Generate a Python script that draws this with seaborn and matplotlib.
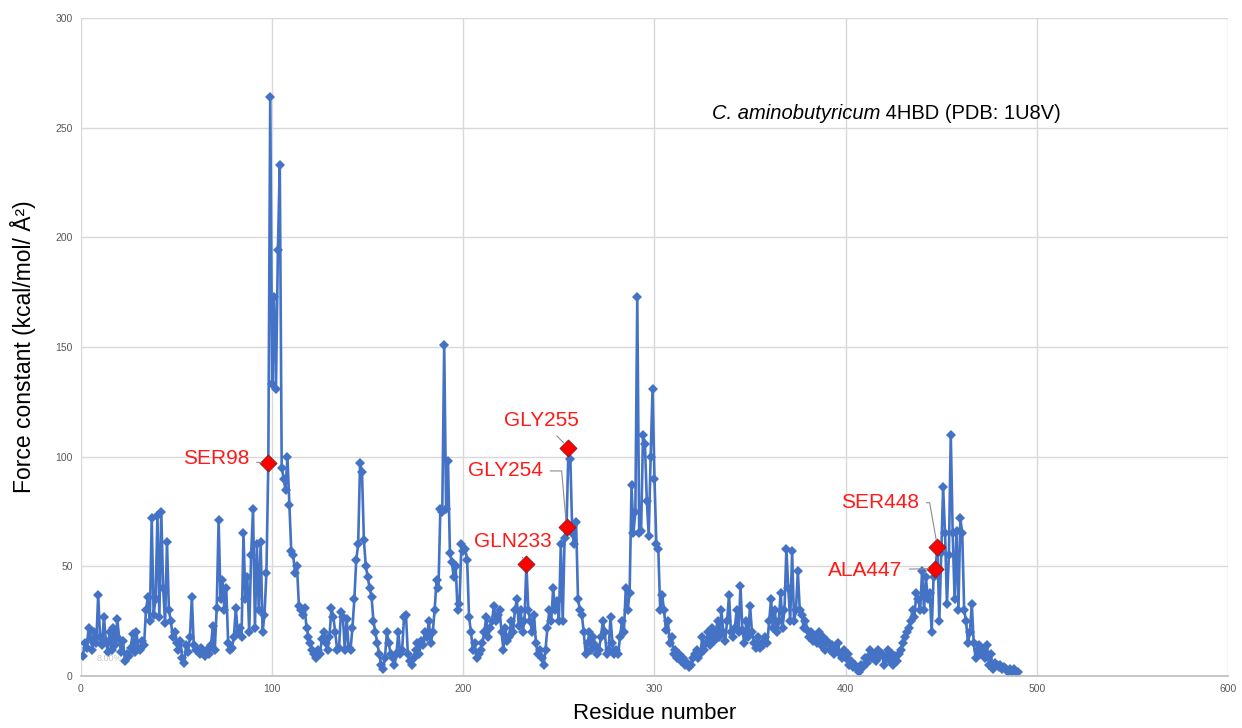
import numpy as np
import pandas as pd
import matplotlib
matplotlib.use("Agg")
import matplotlib.pyplot as plt
import seaborn as sns

# force constant per residue (residues 1..490)
force = [
    9, 15, 13, 22, 17, 12, 20, 15, 37, 18,
    14, 27, 16, 11, 20, 12, 22, 14, 26, 17,
    11, 16, 7, 10, 9, 13, 19, 11, 20, 13,
    12, 16, 14, 30, 36, 25, 72, 28, 35, 73,
    27, 75, 40, 24, 61, 30, 25, 18, 20, 15,
    12, 16, 8, 6, 14, 11, 18, 36, 14, 12,
    12, 10, 13, 11, 9, 12, 10, 14, 23, 12,
    31, 71, 35, 44, 30, 40, 15, 12, 13, 18,
    31, 20, 22, 18, 65, 35, 45, 20, 55, 76,
    22, 60, 30, 61, 20, 28, 47, 97, 264, 133,
    173, 131, 194, 233, 95, 90, 85, 100, 78, 57,
    55, 47, 50, 32, 30, 28, 31, 22, 18, 15,
    12, 10, 8, 12, 10, 17, 20, 15, 12, 18,
    31, 27, 20, 12, 13, 29, 27, 12, 26, 13,
    12, 22, 35, 53, 60, 97, 93, 62, 50, 45,
    40, 36, 25, 20, 15, 10, 5, 3, 8, 20,
    15, 10, 8, 5, 10, 20, 10, 12, 27, 28,
    10, 7, 5, 8, 12, 15, 10, 16, 14, 20,
    18, 25, 15, 20, 30, 44, 40, 76, 75, 151,
    76, 98, 56, 52, 45, 50, 30, 33, 60, 57,
    58, 53, 27, 20, 12, 15, 8, 10, 12, 15,
    20, 27, 18, 22, 25, 32, 25, 28, 30, 20,
    12, 22, 16, 18, 25, 20, 30, 35, 23, 30,
    20, 25, 51, 30, 25, 20, 28, 15, 10, 12,
    8, 5, 12, 22, 30, 25, 40, 30, 34, 25,
    60, 25, 63, 68, 104, 99, 65, 60, 70, 35,
    30, 28, 20, 10, 15, 20, 12, 18, 14, 10,
    12, 18, 25, 20, 10, 12, 27, 15, 10, 12,
    10, 18, 25, 20, 40, 30, 38, 87, 65, 75,
    173, 65, 66, 110, 106, 80, 64, 100, 131, 90,
    60, 58, 30, 37, 30, 21, 25, 15, 18, 10,
    12, 8, 10, 7, 8, 5, 6, 4, 5, 8,
    10, 12, 8, 10, 18, 12, 15, 20, 14, 22,
    16, 20, 25, 18, 30, 20, 16, 25, 37, 20,
    18, 22, 30, 20, 41, 21, 15, 25, 18, 32,
    20, 15, 13, 18, 13, 15, 14, 18, 15, 25,
    35, 22, 30, 20, 25, 38, 22, 30, 58, 40,
    25, 57, 25, 30, 48, 30, 28, 22, 25, 21,
    18, 20, 16, 18, 15, 20, 14, 18, 12, 16,
    15, 12, 14, 10, 12, 15, 10, 8, 12, 8,
    10, 5, 7, 4, 5, 3, 2, 5, 4, 8,
    6, 9, 12, 8, 10, 7, 12, 9, 10, 5,
    8, 12, 7, 10, 5, 9, 7, 10, 12, 15,
    18, 20, 22, 25, 30, 27, 38, 35, 30, 48,
    30, 45, 35, 38, 20, 45, 49, 59, 25, 56,
    86, 65, 33, 55, 110, 65, 35, 66, 30, 72,
    65, 30, 25, 15, 20, 33, 15, 8, 12, 14,
    10, 12, 8, 14, 5, 10, 3, 6, 5, 4,
    5, 3, 4, 3, 2, 3, 2, 3, 2, 2,
]
residues = list(range(1, len(force) + 1))

# highlighted residues
hl_residues = [98, 233, 254, 255, 447, 448]
hl_labels = ["SER98", "GLN233", "GLY254", "GLY255", "ALA447", "SER448"]

df = pd.DataFrame({"Residue": residues, "Force": force})
hl = df[df["Residue"].isin(hl_residues)]

sns.set_theme(style="whitegrid")
plt.rcParams["font.family"] = ["Liberation Sans", "DejaVu Sans"]

fig = plt.figure(figsize=(12.42, 7.28), dpi=100)
ax = fig.add_axes([0.0652, 0.0714, 0.9235, 0.9039])

sns.lineplot(data=df, x="Residue", y="Force", ax=ax, color="#4472C4",
             linewidth=1.9, marker="D", markersize=4.8, markeredgewidth=0)
sns.scatterplot(data=hl, x="Residue", y="Force", ax=ax, marker="D", s=75,
                color="#FF0000", edgecolor="#7F1F1F", linewidth=0.6, zorder=5)

ax.set_xlim(0, 600)
ax.set_ylim(0, 300)
ax.set_xticks(range(0, 601, 100))
ax.set_yticks(range(0, 301, 50))
ax.tick_params(axis="both", labelsize=7.5, colors="#595959", length=0, pad=6)
ax.grid(True, color="#D9D9D9", linewidth=1)
for s in ["top", "right", "left"]:
    ax.spines[s].set_visible(False)
ax.spines["bottom"].set_color("#BFBFBF")
ax.set_facecolor("white")

ax.set_xlabel("Residue number", fontsize=16, color="black", labelpad=6)
ax.set_ylabel("Force constant (kcal/mol/ Å²)", fontsize=16.5, color="black", labelpad=14)

# title inside the plot
ax.text(0.697, 0.855, "C. aminobutyricum", transform=ax.transAxes, fontsize=14.5,
        style="italic", ha="right", va="center", color="black")
ax.text(0.697, 0.855, " 4HBD (PDB: 1U8V)", transform=ax.transAxes, fontsize=14.5,
        ha="left", va="center", color="black")

# labels with leader lines
lab_pos = {
    "SER98": (88, 99, "right", "arc3"),
    "GLN233": (226, 61.5, "center", "arc3"),
    "GLY254": (222, 93.5, "center", "angle,angleA=0,angleB=95,rad=0"),
    "GLY255": (241, 116.7, "center", "arc3"),
    "ALA447": (410, 48.3, "center", "arc3"),
    "SER448": (418, 79, "center", "angle,angleA=0,angleB=100,rad=0"),
}
for r, lab in zip(hl_residues, hl_labels):
    tx, ty, ha, conn = lab_pos[lab]
    yv = force[r - 1]
    ax.annotate(lab, xy=(r, yv), xytext=(tx, ty), fontsize=15, color="#FF1A1A",
                ha=ha, va="center", zorder=6,
                arrowprops=dict(arrowstyle="-", color="#8C8C8C", lw=0.8,
                                connectionstyle=conn, shrinkA=3, shrinkB=5))

ax.text(8, 8, "8.00%", fontsize=6.5, color="#C8C8C8", ha="left", va="center")

fig.savefig("out.png", dpi=100)
